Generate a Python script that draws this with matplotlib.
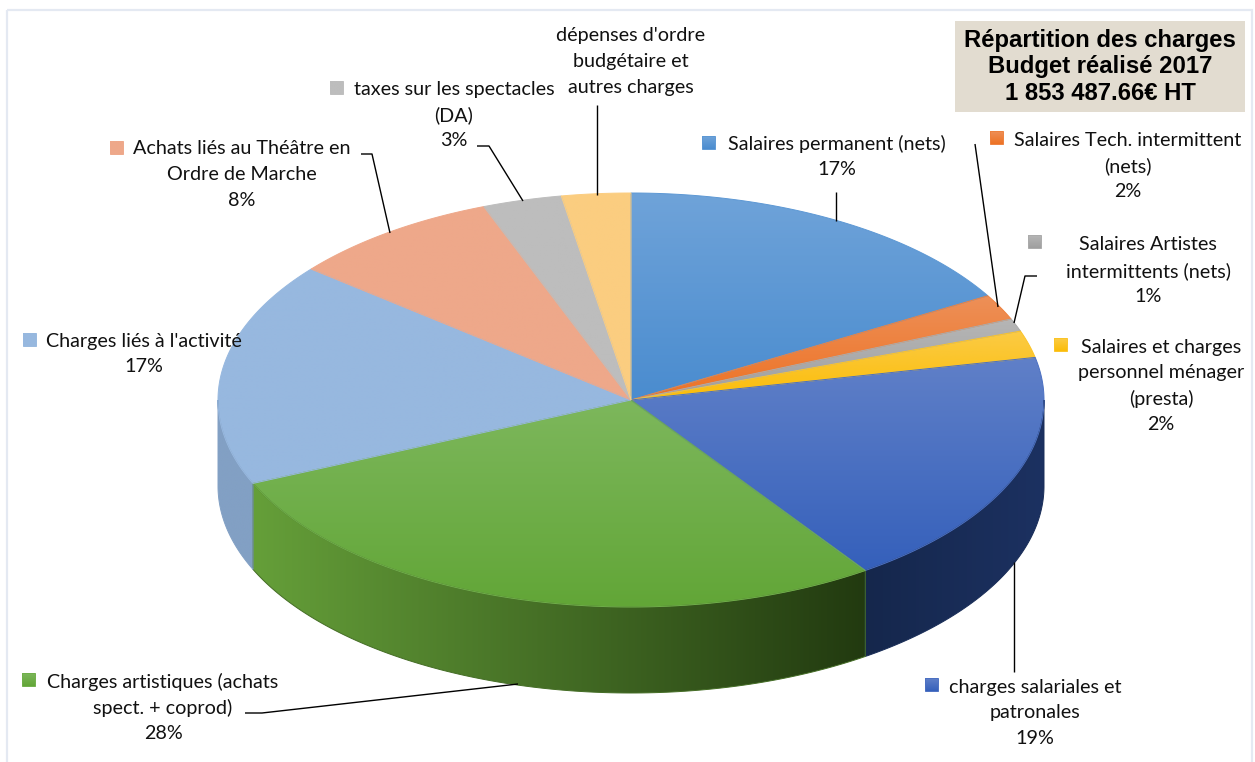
import numpy as np
import matplotlib
matplotlib.use('Agg')
import matplotlib.pyplot as plt
from matplotlib.colors import to_rgb
from matplotlib.patches import Polygon, Rectangle

plt.rcParams['font.family'] = ['Lato', 'DejaVu Sans']

# share of each item, clockwise from 12 o'clock
names = ['Salaires permanent (nets)\n17%',
         'Salaires Tech. intermittent\n(nets)\n2%',
         'Salaires Artistes\nintermittents (nets)\n1%',
         'Salaires et charges\npersonnel ménager\n(presta)\n2%',
         'charges salariales et\npatronales\n19%',
         'Charges artistiques (achats\nspect. + coprod)\n28%',
         "Charges liés à l'activité\n17%",
         'Achats liés au Théâtre en\nOrdre de Marche\n8%',
         'taxes sur les spectacles\n(DA)\n3%',
         "dépenses d'ordre\nbudgétaire et\nautres charges"]
values = [16.6, 2.0, 1.0, 2.1, 18.7, 28.0, 17.5, 8.3, 3.1, 2.7]

top_light = ['#6fa3d9', '#ee9058', '#b6b6b6', '#fbcb45', '#6080c8', '#7db75c', '#97b8df', '#eea88a', '#bdbdbd', '#fbcd80']
top_dark = ['#4a8ccf', '#ed7224', '#9f9f9f', '#fbbd08', '#3560bb', '#62a637', '#97b8df', '#eea88a', '#bdbdbd', '#fbcd80']
wall_left = {4: '#15274c', 5: '#659f39', 6: '#82a0c4'}
wall_right = {4: '#1c3161', 5: '#223a10', 6: '#82a0c4'}

title_lines = ['Répartition des charges', 'Budget réalisé 2017', '1 853 487.66€ HT']

# label placement, pixels
label_center = [837, 1128, 1148, 1161, 1035, 163, 144, 242, 454, 631]
label_first_y = [144, 140, 245, 347, 687, 682, 341, 149, 89, 36]
marker_xy = [(702, 136), (990, 131), (1028, 235), (1054, 338), (925, 678), (22, 673), (23, 333), (110, 141), (330, 81), None]
leaders = [[(836, 192), (836, 221)],
           [(975, 144), (998, 307)],
           [(1037, 276), (1025, 276), (1014, 323)],
           None,
           [(1014, 562), (1014, 672)],
           [(245, 713), (262, 713), (518, 684)],
           None,
           [(361, 154), (372, 154), (390, 233)],
           [(477, 146), (489, 146), (523, 201)],
           [(597, 105), (597, 195)]]

cx, cy, rx, ry, depth = 631, 400, 413, 207, 86


def ellipse(t):
    return cx + rx * np.sin(t), cy - ry * np.cos(t)


def gradient(ax, verts, c0, c1, vertical=True):
    xs, ys = verts[:, 0], verts[:, 1]
    ramp = np.linspace(to_rgb(c0), to_rgb(c1), 128)
    img = ramp[:, None, :] if vertical else ramp[None, :, :]
    im = ax.imshow(img, extent=(xs.min(), xs.max(), ys.max(), ys.min()), origin='upper',
                   aspect='auto', interpolation='bilinear', zorder=2)
    clip = Polygon(verts, closed=True, fill=False, edgecolor='none', transform=ax.transData)
    ax.add_patch(clip)
    im.set_clip_path(clip)
    # smooth the hard clip edge
    mid = tuple((np.array(to_rgb(c0)) + np.array(to_rgb(c1))) / 2)
    ax.add_patch(Polygon(verts, closed=True, fill=False, edgecolor=mid, lw=0.7, zorder=2.1))


fig = plt.figure(figsize=(12.55, 7.62), dpi=100)
ax = fig.add_axes([0, 0, 1, 1])
ax.axis('off')

# outer frame
ax.add_patch(Rectangle((7, 10), 1245, 780, fill=False, edgecolor='#e4e9f2', lw=1.6))

edges = np.radians(np.cumsum([0] + values) * 3.6)

# side walls, only the front half shows
for i in wall_left:
    t = np.linspace(max(edges[i], np.pi / 2), min(edges[i + 1], 3 * np.pi / 2), 120)
    x, y = ellipse(t)
    verts = np.column_stack([np.r_[x, x[::-1]], np.r_[y, y[::-1] + depth]])
    gradient(ax, verts, wall_left[i], wall_right[i], vertical=False)

# top faces
for i in range(len(values)):
    t = np.linspace(edges[i], edges[i + 1], 120)
    x, y = ellipse(t)
    verts = np.column_stack([np.r_[cx, x], np.r_[cy, y]])
    gradient(ax, verts, top_light[i], top_dark[i])

# leader lines
for pts in leaders:
    if pts is None:
        continue
    ax.plot(*zip(*pts), color='black', lw=1.0, zorder=3, solid_capstyle='butt')

# labels and small colour squares
for i, name in enumerate(names):
    for j, line in enumerate(name.split('\n')):
        ax.text(label_center[i], label_first_y[i] + j * 25.8, line, ha='center', va='center',
                fontsize=14.2, color='#111111', zorder=4)
    if marker_xy[i] is not None:
        mx, my = marker_xy[i]
        sq = np.array([[mx, my], [mx + 13, my], [mx + 13, my + 13], [mx, my + 13]])
        gradient(ax, sq, top_light[i], top_dark[i])

# title box
ax.add_patch(Rectangle((955, 21), 290, 91, facecolor='#e2dcd0', edgecolor='none', zorder=4))
for j, line in enumerate(title_lines):
    ax.text(1100, 40 + j * 27, line, ha='center', va='center', fontsize=17.2, fontweight='bold',
            family='Liberation Sans', color='black', zorder=5)

ax.set_xlim(0, 1255)
ax.set_ylim(762, 0)

fig.savefig('out.png', dpi=100)
